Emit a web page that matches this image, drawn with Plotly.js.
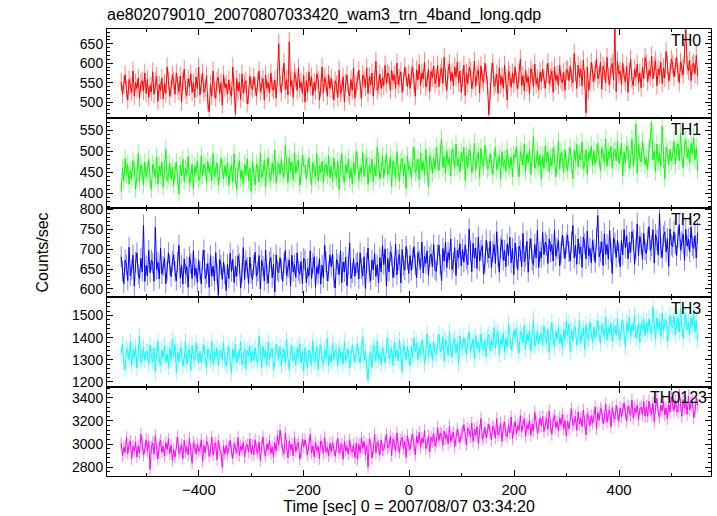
<!DOCTYPE html>
<html>
<head>
<meta charset="utf-8">
<script src="https://cdn.plot.ly/plotly-3.0.1.min.js"></script>
<style>html,body{margin:0;padding:0;background:#fff;}#chart{width:717px;height:516px;}</style>
</head>
<body>
<div id="chart"></div>
<script>
// Time bins (sec): first bin centre and bin spacing of the sampled light curves
const timeStart = -548;
const timeStep = 2.5;

const bandNames = ["TH0", "TH1", "TH2", "TH3", "TH0123"];

const th0 = [
552,520,545,570,532,505,558,542,525,580,515,550,535,562,510,548,555,528,575,522,
558,512,542,526,578,520,552,566,502,545,530,562,508,548,522,590,555,515,535,570,
555,520,575,542,527,567,500,553,585,533,517,560,539,573,525,550,512,565,535,590,
518,548,575,525,535,568,498,475,546,515,580,530,510,555,564,522,550,492,570,537,
547,520,557,527,515,590,543,470,560,529,550,507,573,523,545,555,495,517,567,540,
533,565,540,515,553,580,527,543,560,505,570,535,550,523,575,537,530,557,510,563,
650,545,525,565,600,532,558,518,655,540,555,512,576,562,530,588,536,552,522,568,
500,555,525,578,540,565,517,551,530,573,557,505,537,590,523,563,548,515,570,535,
562,532,505,555,545,512,582,522,534,565,500,550,570,525,516,558,530,588,510,543,
555,582,532,510,570,560,538,588,522,565,544,575,515,558,605,530,542,572,535,562,
542,595,548,575,568,530,582,555,570,535,600,545,562,578,525,552,590,565,540,572,
535,570,590,550,515,583,557,597,543,575,560,603,539,553,585,527,579,563,593,547,
560,595,540,573,588,548,615,562,530,582,598,555,576,542,590,565,603,550,580,525,
562,595,517,575,547,589,580,535,555,605,540,571,583,523,593,560,550,600,573,543,
468,528,578,600,540,550,572,522,588,545,566,535,595,552,505,580,568,538,575,548,
590,555,535,575,610,542,568,528,582,550,565,522,586,572,540,598,546,562,532,578,
553,585,560,535,573,600,547,563,580,525,590,555,570,543,595,557,550,577,530,583,
582,555,592,562,550,625,578,535,595,564,585,542,608,558,472,590,530,552,602,575,
553,583,610,560,570,603,533,593,581,550,615,565,545,590,599,557,690,527,605,572,
580,545,600,567,552,592,525,578,610,558,542,585,564,598,550,575,537,590,560,615,
598,552,582,566,618,560,592,606,542,585,570,602,548,588,562,630,595,555,575,610,
597,565,590,615,577,550,603,587,570,625,690,595,580,607,555,593,600,573,620,567];

const th1 = [
405,460,430,483,445,470,422,456,435,478,462,410,442,495,428,468,453,420,475,440,
455,482,432,410,470,460,438,488,422,465,444,475,415,458,505,430,442,472,435,462,
420,455,475,435,400,468,442,482,428,460,445,488,424,438,470,412,464,448,478,432,
437,490,443,470,463,425,477,450,465,430,495,440,457,473,420,447,485,460,435,467,
440,475,420,453,468,428,495,442,410,462,478,435,456,422,470,445,483,430,460,405,
477,447,420,470,460,427,497,437,449,480,415,465,485,440,431,473,445,503,425,458,
472,445,482,452,440,515,468,425,485,454,475,432,498,448,470,480,420,442,492,465,
467,435,460,485,447,420,473,457,440,495,430,465,450,477,425,463,470,443,490,437,
465,430,485,452,437,477,410,463,495,443,427,470,449,483,435,460,422,475,445,500,
478,432,462,446,498,440,472,486,422,465,450,482,428,468,442,510,475,435,455,490,
438,468,495,445,455,488,418,478,466,435,500,450,430,475,484,442,470,412,490,457,
465,438,488,510,450,460,482,432,498,455,476,445,505,462,415,490,478,448,485,458,
510,475,455,495,530,462,488,448,502,470,485,442,506,492,460,518,466,482,452,498,
477,510,432,490,462,504,495,450,470,520,455,486,498,438,508,475,465,515,488,458,
463,495,470,445,483,510,457,473,490,435,500,465,480,453,505,467,460,487,440,493,
485,512,462,440,500,490,468,518,452,495,474,505,445,488,535,460,472,502,465,492,
435,490,460,513,475,500,452,486,465,508,492,440,472,525,458,498,483,450,505,470,
455,490,510,470,435,503,477,517,463,495,480,523,459,473,505,447,499,483,513,467,
502,470,495,520,482,455,508,492,475,530,465,500,485,512,460,498,505,478,525,472,
487,520,442,500,472,514,505,460,480,530,465,496,565,448,518,485,475,525,498,468,
485,458,508,530,570,480,502,452,518,475,496,465,560,482,435,510,498,468,505,478,
490,525,470,503,518,478,545,492,460,512,528,485,506,472,520,495,533,480,510,455];

const th2 = [
681,645,613,673,661,621,705,633,648,685,607,667,691,637,626,677,643,760,619,659,
633,697,641,673,665,619,755,649,667,625,703,637,657,677,613,645,691,661,631,669,
686,644,620,668,710,628,660,612,676,638,656,604,681,664,626,696,633,652,616,672,
644,612,672,698,626,638,664,604,684,632,657,620,692,640,584,674,660,624,668,636,
596,662,626,690,644,674,616,657,632,684,664,602,640,704,624,672,654,614,680,638,
624,660,692,632,644,684,600,672,657,620,698,638,614,668,679,628,662,592,686,646,
641,679,649,619,665,697,633,653,673,607,685,643,661,629,691,645,637,669,613,677,
672,616,652,633,696,626,664,681,604,656,638,676,612,660,628,710,668,620,644,686,
656,688,628,602,674,662,636,696,616,668,643,680,608,660,716,626,640,676,632,664,
667,625,691,651,633,681,601,665,703,641,621,673,648,689,631,661,615,679,643,709,
661,701,607,677,643,694,683,629,653,713,635,672,687,615,699,659,647,707,675,639,
684,646,676,706,660,628,692,672,652,718,640,682,664,696,634,680,688,656,712,648,
644,686,710,662,620,702,670,718,654,692,674,726,649,666,704,634,697,678,714,658,
699,667,711,675,661,751,695,643,715,678,703,651,731,671,697,709,637,663,723,691,
678,720,654,694,712,664,744,680,642,704,724,672,697,656,714,684,730,666,702,636,
716,680,648,708,696,656,740,668,683,720,642,702,726,672,661,712,678,748,654,694,
678,742,686,718,710,664,726,694,712,670,748,682,702,722,658,690,736,706,676,714,
736,694,670,718,760,678,710,662,726,688,706,654,731,714,676,746,683,702,666,722,
699,667,727,785,681,693,719,659,739,687,712,675,747,695,639,729,715,679,723,691,
656,722,686,750,704,734,676,717,692,744,724,662,700,764,684,732,714,674,740,698,
689,725,757,697,709,749,665,737,722,685,790,703,679,733,744,693,727,657,751,711,
706,744,714,684,730,762,698,718,738,672,750,708,726,694,756,710,702,734,678,742];

const th3 = [
1328,1371,1291,1256,1352,1336,1301,1381,1275,1344,1310,1360,1264,1333,1408,1288,1307,1355,1296,1339,
1336,1280,1368,1315,1291,1355,1248,1333,1384,1301,1275,1344,1310,1365,1288,1328,1267,1352,1304,1392,
1315,1368,1243,1336,1291,1358,1344,1272,1304,1384,1280,1330,1349,1253,1365,1312,1296,1376,1333,1285,
1339,1288,1328,1368,1307,1264,1349,1323,1296,1384,1280,1336,1312,1355,1272,1333,1344,1301,1376,1291,
1272,1328,1360,1296,1240,1349,1307,1371,1285,1336,1312,1381,1278,1301,1352,1259,1342,1317,1365,1291,
1339,1296,1355,1307,1288,1408,1333,1264,1360,1310,1344,1275,1381,1301,1336,1352,1256,1291,1371,1328,
1304,1360,1272,1325,1349,1285,1392,1307,1256,1339,1365,1296,1330,1275,1352,1312,1373,1288,1336,1248,
1355,1307,1264,1344,1328,1275,1387,1291,1310,1360,1256,1336,1368,1296,1282,1349,1304,1397,1272,1325,
1291,1376,1301,1344,1333,1272,1355,1312,1336,1280,1384,1296,1323,1349,1264,1307,1368,1328,1288,1339,
1373,1317,1285,1349,1405,1296,1338,1274,1205,1309,1333,1264,1367,1344,1293,1386,1303,1328,1280,1354,
1327,1284,1364,1399,1303,1319,1354,1274,1380,1311,1345,1295,1391,1322,1247,1367,1348,1300,1359,1316,
1273,1361,1313,1398,1337,1377,1300,1355,1321,1390,1364,1281,1332,1417,1310,1374,1350,1297,1385,1329,
1325,1373,1416,1336,1352,1405,1293,1389,1370,1320,1424,1344,1312,1384,1398,1331,1376,1283,1408,1355,
1351,1402,1362,1322,1383,1426,1341,1367,1394,1306,1410,1354,1378,1335,1418,1357,1346,1389,1314,1399,
1414,1340,1388,1363,1446,1353,1404,1427,1324,1393,1369,1420,1334,1398,1356,1465,1409,1345,1377,1433,
1403,1446,1366,1331,1427,1411,1376,1456,1350,1419,1385,1435,1339,1408,1483,1363,1382,1430,1371,1414,
1421,1365,1453,1400,1376,1440,1333,1418,1469,1386,1360,1429,1395,1450,1373,1413,1352,1437,1389,1477,
1410,1463,1338,1431,1386,1453,1439,1367,1399,1479,1375,1425,1444,1348,1460,1407,1391,1471,1428,1380,
1449,1398,1438,1478,1417,1374,1459,1433,1406,1494,1390,1446,1422,1465,1382,1443,1454,1411,1486,1401,
1392,1448,1480,1416,1360,1469,1427,1491,1405,1456,1432,1501,1398,1421,1472,1379,1462,1437,1485,1411,
1469,1426,1485,1437,1418,1538,1463,1394,1490,1440,1474,1405,1511,1431,1466,1482,1386,1421,1501,1458,
1444,1500,1412,1465,1489,1425,1532,1447,1396,1479,1505,1436,1470,1415,1492,1452,1513,1428,1476,1388];

const th0123 = [
3008,2898,2970,2931,3056,2917,2994,3027,2874,2977,2941,3018,2888,2984,2922,3085,3001,2905,2953,3037,
2941,3025,2780,2972,3008,2912,3073,2946,2869,2994,3032,2929,2979,2898,3013,2953,3044,2917,2989,2857,
2953,2888,3008,3061,2917,2941,2994,2874,3032,2929,2979,2905,3049,2946,2833,3013,2984,2912,3001,2936,
2958,3037,2850,2989,2922,3023,3001,2893,2941,3061,2905,2979,3008,2864,3032,2953,2929,2800,2984,2912,
2989,2912,2972,3032,2941,2876,3003,2965,2924,3056,2900,2984,2948,3013,2888,2979,2996,2931,3044,2917,
2989,2905,3037,2958,2922,3018,2857,2984,3061,2936,2898,3001,2951,3032,2917,2977,2886,3013,2941,3073,
2994,3120,3018,2946,2917,3097,2984,2881,3025,2951,3001,2898,3056,2936,2989,3013,2869,2922,3042,2977,
3037,2953,2905,3001,3085,2922,2984,2888,3018,2941,2977,2874,3027,2994,2917,3056,2931,2970,2898,3008,
2936,3013,2953,2893,2984,3049,2922,2960,3001,2869,3025,2941,2977,2912,3037,2946,2929,2994,2881,3008,
2867,2999,2927,3054,2963,3023,2908,2989,2800,3042,3004,2879,2956,3083,2922,3018,2982,2903,3035,2951,
2947,3019,3084,2964,2988,3067,2899,3043,3014,2940,3096,2976,2928,3036,3058,2957,3024,2885,3072,2993,
2953,3037,3085,2989,2905,3068,3006,3102,2972,3049,3013,3116,2963,2996,3073,2934,3059,3020,3092,2982,
3017,3144,3031,3096,3079,2988,3113,3048,3084,3000,3156,3024,3065,3103,2976,3041,3132,3072,3012,3089,
3102,3167,3047,2994,3138,3114,3061,3181,3023,3126,3076,3150,3006,3109,3222,3042,3071,3143,3054,3119,
3173,3101,3036,3156,3132,3053,3221,3077,3106,3180,3024,3144,3192,3084,3062,3163,3096,3235,3048,3127,
3198,3088,3160,3121,3246,3107,3184,3217,3064,3167,3131,3208,3078,3174,3112,3275,3191,3095,3143,3227,
3156,3240,3108,3187,3223,3127,3288,3161,3084,3209,3247,3144,3194,3113,3228,3168,3259,3132,3204,3072,
3198,3133,3253,3306,3162,3186,3239,3119,3277,3174,3224,3150,3294,3191,3078,3258,3229,3157,3246,3181,
3243,3322,3135,3274,3207,3308,3286,3178,3226,3346,3190,3264,3293,3149,3317,3238,3214,3334,3269,3197,
3314,3237,3297,3357,3266,3201,3328,3290,3249,3381,3225,3309,3273,3338,3213,3304,3321,3256,3369,3242,
3324,3240,3372,3293,3257,3353,3192,3319,3396,3271,3233,3336,3286,3367,3252,3312,3221,3348,3276,3408,
3354,3289,3378,3306,3277,3457,3344,3241,3385,3311,3361,3258,3416,3296,3349,3373,3229,3282,3402,3337];

const series = [th0, th1, th2, th3, th0123];
const lineColors = ["#ff0000", "#00ff00", "#0000ff", "#00ffff", "#ff00ff"];
const errColors = ["rgba(255,0,0,0.5)", "rgba(0,255,0,0.5)", "rgba(0,0,255,0.5)", "rgba(0,255,255,0.5)", "rgba(255,0,255,0.5)"];
const yRanges = [[458, 688], [366, 579], [579, 804.5], [1179, 1583], [2723, 3498]];
const yDticks = [50, 50, 50, 100, 200];
const yMinor = [10, 10, 10, 20, 40];
const labelX = [0.987, 0.987, 0.987, 0.987, 0.997];

const FONT = "Liberation Sans, Arial, Helvetica, sans-serif";
const n = 5;
const traces = [];
const layout = {
  width: 717, height: 516,
  margin: {l: 107, r: 6, t: 29, b: 40},
  paper_bgcolor: "#fff", plot_bgcolor: "#fff",
  showlegend: false,
  font: {family: FONT, size: 14, color: "#000"},
  title: {text: "ae802079010_20070807033420_wam3_trn_4band_long.qdp",
          x: 0, xref: "paper", xanchor: "left", y: 0.973, yref: "container", yanchor: "middle",
          font: {family: FONT, size: 16, color: "#000"}},
  annotations: []
};

for (let i = 0; i < n; i++) {
  const ys = series[i];
  const xs = ys.map((_, k) => timeStart + timeStep * k);
  const err = ys.map(v => Math.sqrt(v));
  const sfx = i === 0 ? "" : String(i + 1);
  traces.push({
    type: "scatter", mode: "lines",
    x: xs, y: ys,
    xaxis: "x" + sfx, yaxis: "y" + sfx,
    line: {color: lineColors[i], width: 1},
    error_y: {type: "data", array: err, visible: true, color: errColors[i], thickness: 1, width: 0},
    hoverinfo: "skip"
  });
  const top = 1 - i / n, bot = 1 - (i + 1) / n;
  const xa = {
    domain: [0, 1], anchor: "y" + sfx,
    range: [-575, 575],
    showline: true, linecolor: "#000", linewidth: 1, mirror: "ticks",
    ticks: "inside", ticklen: 6, tickcolor: "#000", dtick: 200, tick0: 0,
    minor: {ticks: "inside", ticklen: 3, dtick: 100, tickcolor: "#000"},
    showgrid: false, zeroline: false,
    showticklabels: i === n - 1,
    tickfont: {family: FONT, size: 15, color: "#000"}
  };
  if (i > 0) xa.matches = "x";
  if (i === n - 1) xa.title = {text: "Time [sec] 0 = 2007/08/07 03:34:20", standoff: 1, font: {family: FONT, size: 16, color: "#000"}};
  layout["xaxis" + sfx] = xa;
  layout["yaxis" + sfx] = {
    domain: [bot, top], anchor: "x" + sfx,
    range: yRanges[i],
    showline: true, linecolor: "#000", linewidth: 1, mirror: "ticks",
    ticks: "inside", ticklen: 6, tickcolor: "#000", dtick: yDticks[i], tick0: 0,
    minor: {ticks: "inside", ticklen: 3, dtick: yMinor[i], tickcolor: "#000"},
    showgrid: false, zeroline: false,
    tickfont: {family: FONT, size: 14, color: "#000"}
  };
  layout.annotations.push({
    text: bandNames[i], xref: "paper", yref: "paper",
    x: labelX[i], y: top - 0.002, xanchor: "right", yanchor: "top",
    showarrow: false, font: {family: FONT, size: 16, color: "#000"}
  });
}
layout.annotations.push({
  text: "Counts/sec", xref: "paper", yref: "paper", x: -0.106, y: 0.5,
  xanchor: "center", yanchor: "middle", textangle: -90, showarrow: false,
  font: {family: FONT, size: 16, color: "#000"}
});

Plotly.newPlot("chart", traces, layout, {displayModeBar: false, staticPlot: true});
</script>
</body>
</html>
